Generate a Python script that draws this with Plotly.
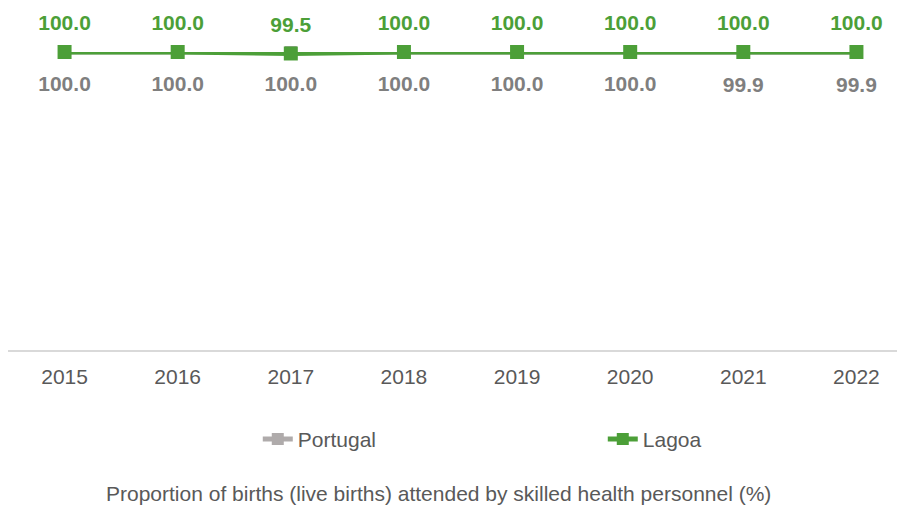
import plotly.graph_objects as go

years = ["2015", "2016", "2017", "2018", "2019", "2020", "2021", "2022"]
portugal = [100.0, 100.0, 100.0, 100.0, 100.0, 100.0, 99.9, 99.9]
lagoa = [100.0, 100.0, 99.5, 100.0, 100.0, 100.0, 100.0, 100.0]

GREY_LINE = "#AFABAB"
GREY_TEXT = "#7F7F7F"
GREEN = "#4C9F38"
FONT = "Liberation Sans, Arial, sans-serif"

fig = go.Figure()
fig.add_trace(go.Scatter(
    x=years, y=portugal, name="Portugal", mode="lines+markers",
    line=dict(color=GREY_LINE, width=5),
    marker=dict(symbol="square", size=12, color=GREY_LINE),
    cliponaxis=False, hoverinfo="x+y",
))
fig.add_trace(go.Scatter(
    x=years, y=lagoa, name="Lagoa", mode="lines+markers",
    line=dict(color=GREEN, width=5),
    marker=dict(symbol="square", size=14, color=GREEN),
    cliponaxis=False, hoverinfo="x+y",
))
# data labels (transparent markers set the label offset)
fig.add_trace(go.Scatter(
    x=years, y=portugal, mode="markers+text", showlegend=False, hoverinfo="skip",
    marker=dict(size=36, color="rgba(0,0,0,0)"),
    text=[f"{v:.1f}" for v in portugal], textposition="bottom center",
    textfont=dict(family=FONT, size=21, color=GREY_TEXT, weight="bold"),
    cliponaxis=False,
))
fig.add_trace(go.Scatter(
    x=years, y=lagoa, mode="markers+text", showlegend=False, hoverinfo="skip",
    marker=dict(size=25, color="rgba(0,0,0,0)"),
    text=[f"{v:.1f}" for v in lagoa], textposition="top center",
    textfont=dict(family=FONT, size=21, color=GREEN, weight="bold"),
    cliponaxis=False,
))

fig.update_layout(
    width=905, height=510,
    margin=dict(l=0, r=0, t=44, b=168, autoexpand=False),
    paper_bgcolor="white", plot_bgcolor="white",
    font=dict(family=FONT, size=21, color="#595959"),
    showlegend=True,
    legend=dict(orientation="h", x=0.276, y=-0.231, xanchor="left", yanchor="top",
                entrywidth=300, entrywidthmode="pixels", itemsizing="constant",
                font=dict(family=FONT, size=21, color="#595959")),
    xaxis=dict(type="category", range=[-0.5, 7.5], showgrid=False, automargin=False,
               showline=True, linecolor="#D9D9D9", linewidth=2,
               ticks="outside", ticklen=7, tickcolor="rgba(0,0,0,0)",
               tickfont=dict(family=FONT, size=21, color="#595959")),
    yaxis=dict(range=[0, 100], visible=False, showgrid=False, zeroline=False, automargin=False),
    annotations=[dict(
        text="Proportion of births (live births) attended by skilled health personnel (%)",
        xref="paper", yref="paper", x=0.476, y=-0.483, xanchor="center", yanchor="middle",
        showarrow=False, font=dict(family=FONT, size=21, color="#595959"),
    )],
)

fig.write_html("out.html")
